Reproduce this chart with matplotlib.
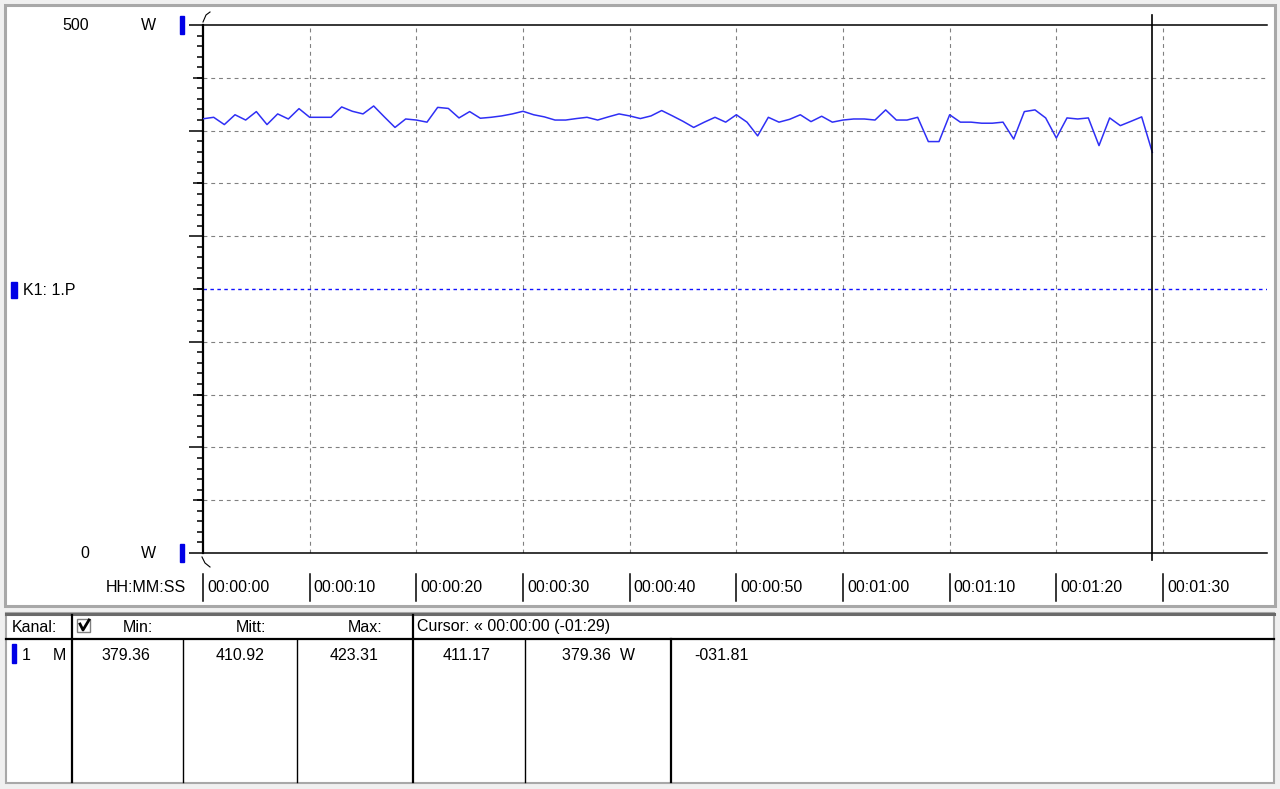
import matplotlib
matplotlib.use('Agg')
import matplotlib.pyplot as plt
from matplotlib import transforms
from matplotlib.patches import Rectangle

plt.rcParams['font.family'] = ['Liberation Sans', 'DejaVu Sans']
plt.rcParams['font.size'] = 11.5

# one sample per second, channel K1: 1.P (W)
seconds = list(range(90))
power = [411.17, 412.6, 405.7, 415.0, 410.0, 418.0, 405.7, 415.8, 411.0, 420.8,
         412.6, 412.6, 412.6, 422.4, 418.3, 415.8, 423.31, 413.0, 403.0, 411.0,
         410.0, 408.0, 422.0, 421.0, 412.0, 418.0, 411.7, 412.6, 413.9, 415.8,
         418.3, 415.0, 413.0, 410.0, 410.0, 411.4, 412.6, 410.0, 413.0, 415.8,
         413.9, 411.4, 413.9, 419.0, 414.0, 408.8, 403.0, 408.0, 412.6, 408.0,
         415.0, 408.0, 395.0, 412.6, 408.0, 410.7, 415.0, 408.5, 413.6, 408.0,
         410.0, 411.0, 411.0, 410.0, 419.6, 410.0, 410.0, 412.6, 389.6, 389.6,
         415.0, 408.0, 408.0, 407.0, 407.0, 408.0, 392.0, 418.0, 419.6, 412.0,
         393.0, 412.0, 411.0, 412.0, 385.8, 412.0, 404.7, 408.8, 413.0, 379.36]

tick_times = [0, 10, 20, 30, 40, 50, 60, 70, 80, 90]
tick_labels = ['00:00:00', '00:00:10', '00:00:20', '00:00:30', '00:00:40',
               '00:00:50', '00:01:00', '00:01:10', '00:01:20', '00:01:30']
grid_levels = [50, 100, 150, 200, 300, 350, 400, 450]
ref_level = 250
cursor_time = 89
y_max, y_min = 500, 0
unit = 'W'
channel_name = 'K1: 1.P'

header = ['Min:', 'Mitt:', 'Max:']
stats = ['379.36', '410.92', '423.31']
cursor_text = 'Cursor: \u00ab 00:00:00 (-01:29)'

BLUE = '#0000e6'
LINE = '#2f2ff5'
GRID = '#808080'

fig = plt.figure(figsize=(12.8, 7.89), dpi=100, facecolor='#f0f0f0')

# pixel-space layer for the window chrome
ui = fig.add_axes([0, 0, 1, 1])
ui.set_xlim(0, 1280)
ui.set_ylim(789, 0)
ui.axis('off')

ui.add_patch(Rectangle((5, 5), 1270, 601, facecolor='white', edgecolor='#a8a8a8', lw=2.2))
ui.add_patch(Rectangle((6, 613), 1268, 170, facecolor='white', edgecolor='#a8a8a8', lw=1.5))
ui.plot([6, 1274], [614, 614], color='#6a6a6a', lw=2.2)

# main plot area
ax = fig.add_axes([203 / 1280, (789 - 553) / 789, (1267 - 203) / 1280, 528 / 789])
ax.set_facecolor('none')
ax.plot(seconds, power, color=LINE, lw=1.1, zorder=4)
ax.set_xlim(0, 99.75)
ax.set_ylim(y_min, y_max)

for lv in grid_levels:
    ax.axhline(lv, color=GRID, lw=0.8, ls=(0, (3.5, 3.5)), zorder=1)
ax.axhline(ref_level, color='#1010ff', lw=1.0, ls=(0, (2.5, 2.5)), zorder=2)
for t in tick_times[1:]:
    ax.axvline(t, color=GRID, lw=0.8, ls=(0, (3.5, 3.5)), zorder=1)

ax.spines['right'].set_visible(False)
ax.spines['left'].set_linewidth(1.6)
ax.spines['top'].set_linewidth(1.1)
ax.spines['bottom'].set_linewidth(1.1)
ax.set_xticks([])
ax.set_yticks(range(0, 501, 100))
ax.set_yticks(range(0, 501, 10), minor=True)
ax.set_yticklabels([])
ax.tick_params(axis='y', which='major', length=10, width=1.1, direction='out')
ax.tick_params(axis='y', which='minor', length=4.3, width=1.1, direction='out')

sec = ax.secondary_yaxis('left')
sec.set_yticks([50, 150, 250, 350, 450])
sec.set_yticklabels([])
sec.tick_params(length=7.2, width=1.1)
sec.spines['left'].set_visible(False)

# x in seconds, y in pixels
mix = transforms.blended_transform_factory(ax.transData, ui.transData)

ax.plot([cursor_time, cursor_time], [15, 560], color='black', lw=1.2,
        transform=mix, clip_on=False, zorder=5)

for t, lab in zip(tick_times, tick_labels):
    ax.plot([t, t], [574, 601], color='black', lw=1.1, transform=mix, clip_on=False)
    ax.text(t, 588, lab, transform=transforms.offset_copy(mix, fig=fig, x=4, units='dots'),
            ha='left', va='center')
ui.text(106, 588, 'HH:MM:SS', ha='left', va='center')

# axis break marks
ui.plot([203, 206, 210], [22, 15, 12], color='black', lw=0.8)
ui.plot([202, 205, 210], [557, 563, 567], color='black', lw=0.8)

# y range labels
ui.text(89, 25, str(y_max), ha='right', va='center')
ui.text(148, 25, unit, ha='center', va='center')
ui.add_patch(Rectangle((180, 16), 4, 18, color=BLUE))
ui.text(89, 553, str(y_min), ha='right', va='center')
ui.text(148, 553, unit, ha='center', va='center')
ui.add_patch(Rectangle((180, 544), 4, 18, color=BLUE))

ui.add_patch(Rectangle((11, 282), 6, 16, color=BLUE))
ui.text(23, 290, channel_name, ha='left', va='center')

# table below
ui.plot([6, 1274], [639, 639], color='black', lw=1.6)
for x in [72, 413]:
    ui.plot([x, x], [615, 782], color='black', lw=1.6)
for x in [183, 297, 525]:
    ui.plot([x, x], [639, 782], color='black', lw=1.0)
ui.plot([671, 671], [639, 782], color='black', lw=1.6)

ui.text(12, 627, 'Kanal:', ha='left', va='center')
ui.add_patch(Rectangle((77, 619), 13, 13, facecolor='white', edgecolor='#808080', lw=1))
ui.plot([80, 83, 89], [624, 630, 620], color='black', lw=2.0)
for cx, h in zip([138, 251, 365], header):
    ui.text(cx, 627, h, ha='center', va='center')
ui.text(417, 627, cursor_text, ha='left', va='center')

ui.add_patch(Rectangle((12, 644), 4, 19, color=BLUE))
ui.text(22, 655, '1', ha='left', va='center')
ui.text(59, 655, 'M', ha='center', va='center')
for cx, s in zip([126, 240, 354], stats):
    ui.text(cx, 655, s, ha='center', va='center')

c_start, c_end = power[0], power[-1]
ui.text(467, 655, f'{c_start:.2f}', ha='center', va='center')
ui.text(598, 655, f'{c_end:.2f}  {unit}', ha='center', va='center')
ui.text(694, 655, f'{c_end - c_start:07.2f}', ha='left', va='center')

fig.savefig('out.png', dpi=100, facecolor=fig.get_facecolor())
